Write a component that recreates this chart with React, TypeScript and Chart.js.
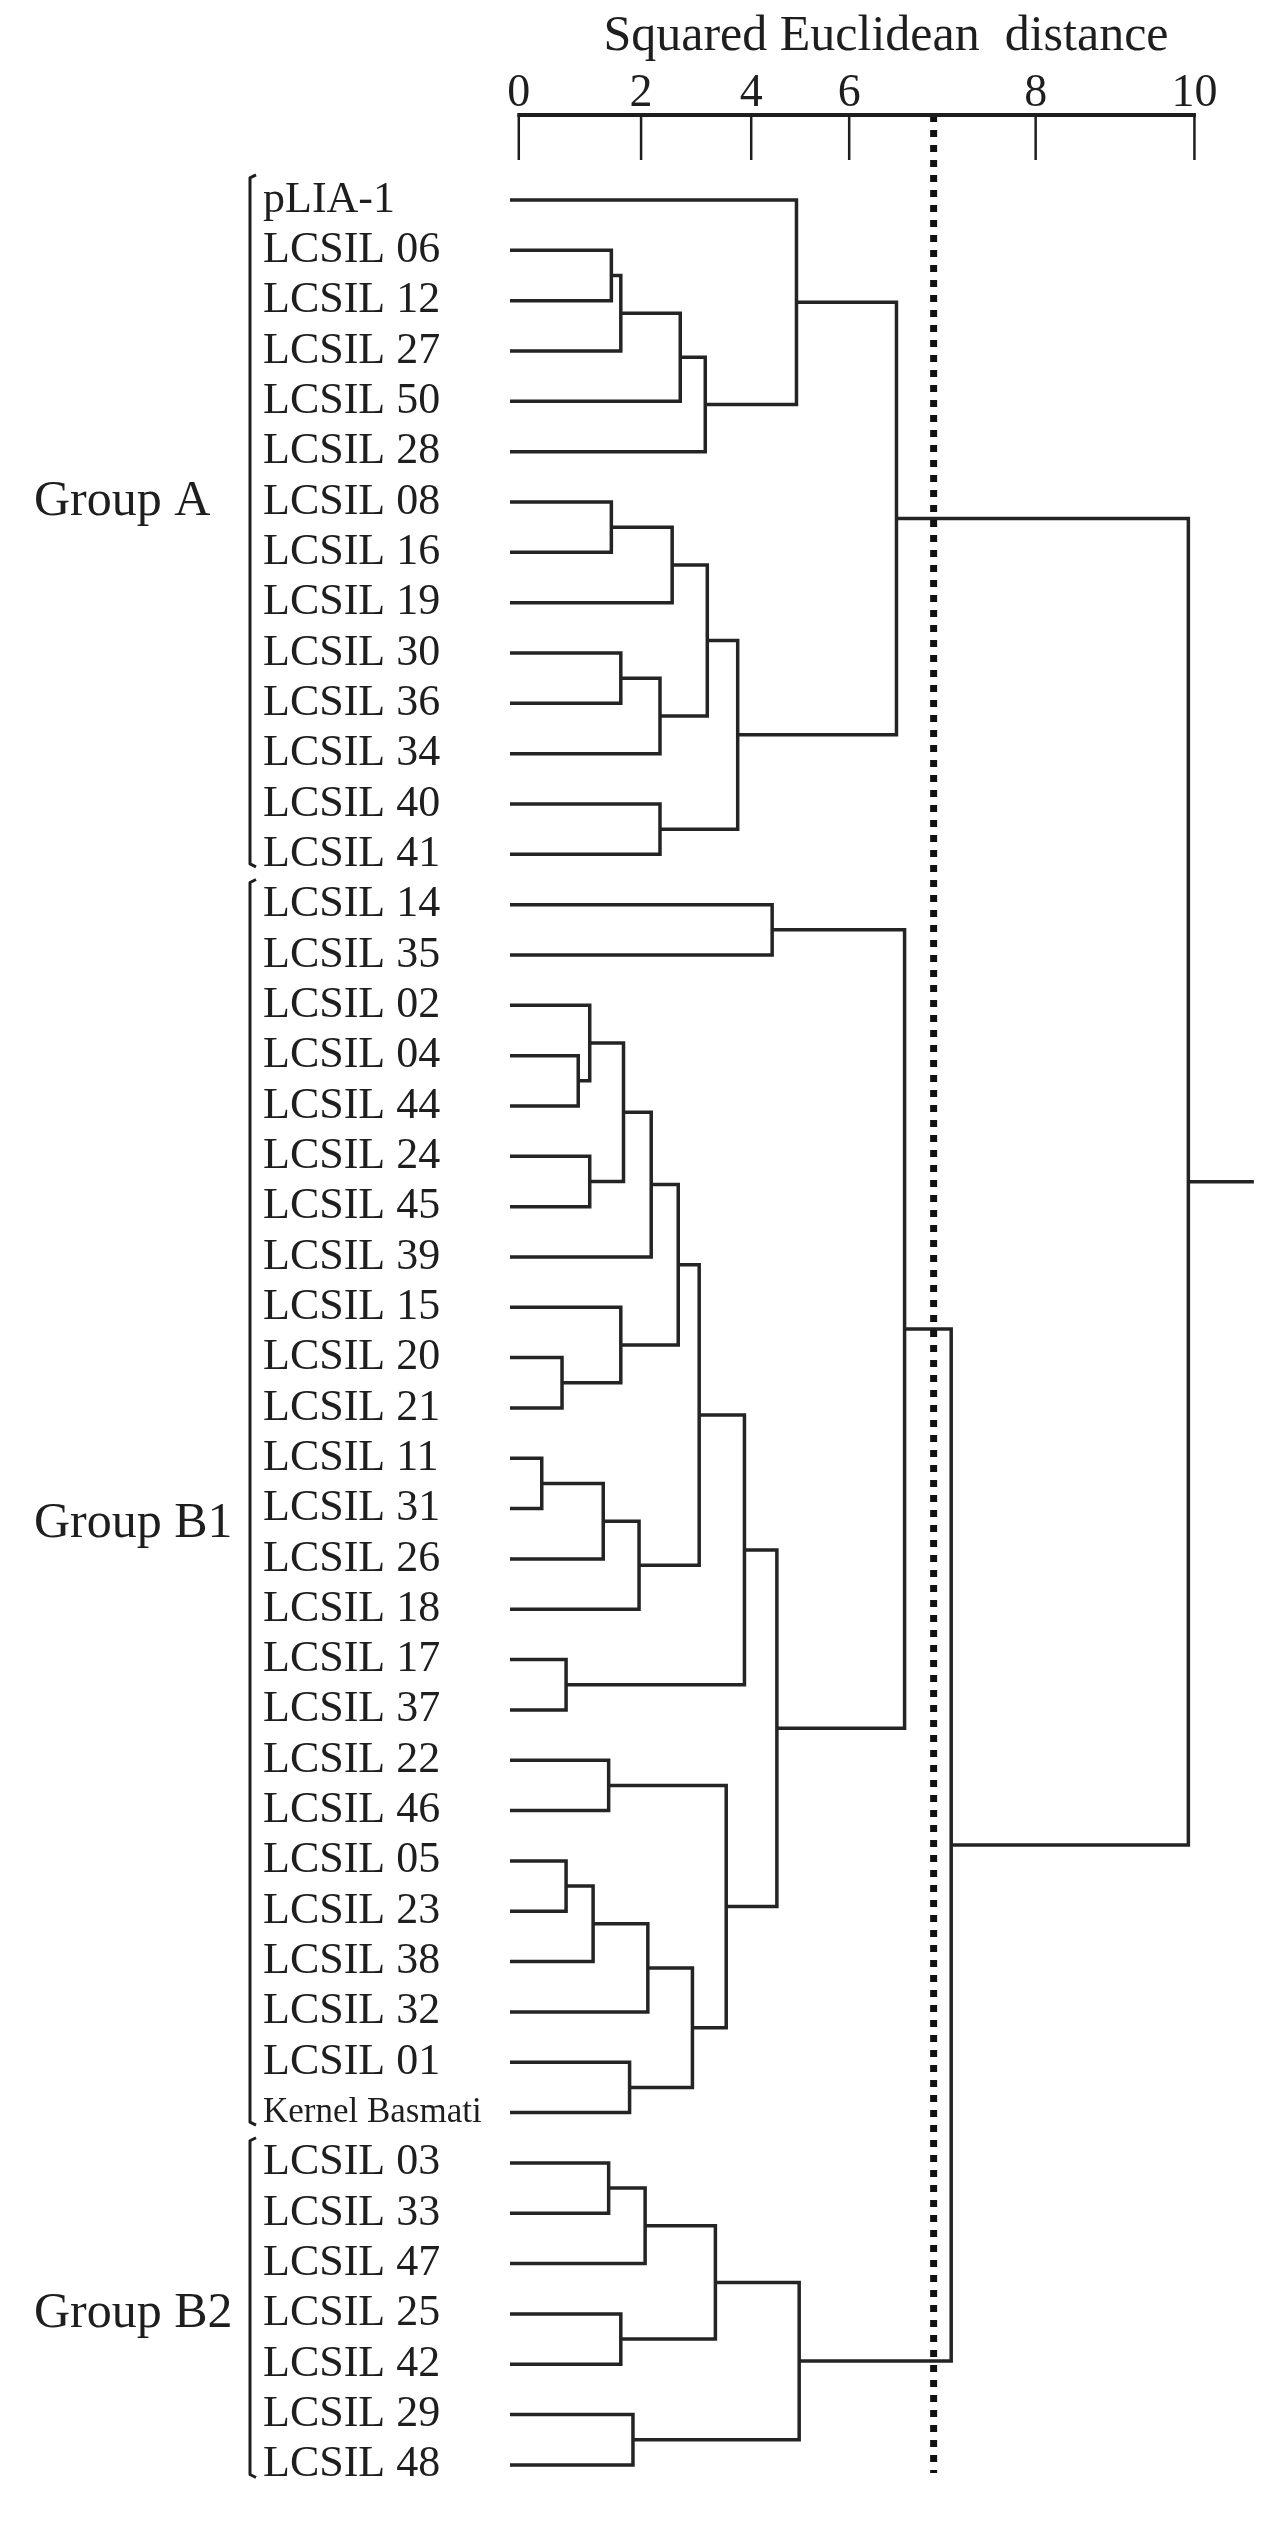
import React, { useEffect, useRef } from 'react';
import { Chart, registerables } from 'chart.js';

Chart.register(...registerables);

// ---------- data ----------
const leafLabels = [
  'pLIA-1', 'LCSIL 06', 'LCSIL 12', 'LCSIL 27', 'LCSIL 50', 'LCSIL 28', 'LCSIL 08',
  'LCSIL 16', 'LCSIL 19', 'LCSIL 30', 'LCSIL 36', 'LCSIL 34', 'LCSIL 40', 'LCSIL 41',
  'LCSIL 14', 'LCSIL 35', 'LCSIL 02', 'LCSIL 04', 'LCSIL 44', 'LCSIL 24', 'LCSIL 45',
  'LCSIL 39', 'LCSIL 15', 'LCSIL 20', 'LCSIL 21', 'LCSIL 11', 'LCSIL 31', 'LCSIL 26',
  'LCSIL 18', 'LCSIL 17', 'LCSIL 37', 'LCSIL 22', 'LCSIL 46', 'LCSIL 05', 'LCSIL 23',
  'LCSIL 38', 'LCSIL 32', 'LCSIL 01', 'Kernel Basmati',
  'LCSIL 03', 'LCSIL 33', 'LCSIL 47', 'LCSIL 25', 'LCSIL 42', 'LCSIL 29', 'LCSIL 48',
];

const groupNames = ['Group A', 'Group B1', 'Group B2'];
const groupFirstLeaf = [0, 14, 39];
const groupLastLeaf = [13, 38, 45];

// Linkage: merge k joins cluster mergeLeft[k] and mergeRight[k]
// (ids < 46 are leaves, id 46 + k is the cluster built by merge k) at mergeHeight[k].
const mergeLeft = [
  1, 46, 47, 48, 0, 6, 51, 9, 53, 52, 12, 55, 50,
  14, 17, 16, 19, 61, 63, 23, 22, 64, 25, 68, 69, 67, 29, 71, 31, 33, 75, 76, 37, 77, 74, 73, 59,
  39, 83, 42, 84, 44, 86,
  82, 58,
];
const mergeRight = [
  2, 3, 4, 5, 49, 7, 8, 10, 11, 54, 13, 56, 57,
  15, 18, 60, 20, 62, 21, 24, 65, 66, 26, 27, 28, 70, 30, 72, 32, 34, 35, 36, 38, 78, 79, 80, 81,
  40, 41, 43, 85, 45, 87,
  88, 89,
];
const mergeHeight = [
  1.37, 1.51, 2.39, 2.76, 4.11, 1.37, 2.27, 1.51, 2.09, 2.79, 2.09, 3.24, 5.59,
  3.75, 0.88, 1.05, 1.05, 1.55, 1.96, 0.64, 1.51, 2.36, 0.34, 1.25, 1.78, 2.67, 0.7, 3.34,
  1.33, 0.7, 1.1, 1.91, 1.64, 2.57, 3.07, 3.82, 5.71,
  1.33, 1.87, 1.51, 2.91, 1.69, 4.15,
  6.4, 9.91,
];

const leafStart = -0.13;
const rootLinkEnd = 10.88;
const cutoffDistance = 6.14;

const xTickValues = [0, 1.81, 3.44, 4.89, 7.65, 10];
const xTickLabels = ['0', '2', '4', '6', '8', '10'];

// ---------- layout / style ----------
const FONT = '"Liberation Serif", "Times New Roman", serif';
const INK = '#1e1e1e';
const LINK = '#242424';
const Y_MIN = -1.689;
const Y_MAX = 45.3;
const GROUP_LABEL_NUDGE = [0, 0.3, 0];

type Pt = { x: number; y: number };

function buildLinks(): Pt[][] {
  const yPos: number[] = leafLabels.map((_, i) => i);
  const hPos: number[] = leafLabels.map(() => leafStart);
  const links: Pt[][] = [];
  mergeHeight.forEach((h, k) => {
    const a = mergeLeft[k];
    const b = mergeRight[k];
    const ya = yPos[a];
    const yb = yPos[b];
    links.push([
      { x: hPos[a], y: ya },
      { x: h, y: ya },
      { x: h, y: yb },
      { x: hPos[b], y: yb },
    ]);
    yPos.push((ya + yb) / 2);
    hPos.push(h);
  });
  const root = yPos.length - 1;
  links.push([
    { x: hPos[root], y: yPos[root] },
    { x: rootLinkEnd, y: yPos[root] },
  ]);
  return links;
}

const decorPlugin = {
  id: 'dendroDecor',
  afterDraw(chart: any) {
    const { ctx, chartArea } = chart;
    const x = chart.scales.x;
    const y = chart.scales.y;
    const top = chartArea.top;
    ctx.save();
    ctx.strokeStyle = INK;
    ctx.lineCap = 'butt';
    // top axis line
    ctx.lineWidth = 4;
    ctx.beginPath();
    ctx.moveTo(x.getPixelForValue(xTickValues[0]) - 1.5, top);
    ctx.lineTo(x.getPixelForValue(xTickValues[xTickValues.length - 1]) + 1.5, top);
    ctx.stroke();
    // tick marks hanging below the axis line
    ctx.lineWidth = 2.5;
    xTickValues.forEach((v) => {
      const px = x.getPixelForValue(v);
      ctx.beginPath();
      ctx.moveTo(px, top);
      ctx.lineTo(px, top + 45);
      ctx.stroke();
    });
    // group brackets and names
    ctx.lineWidth = 3;
    ctx.lineJoin = 'round';
    ctx.fillStyle = INK;
    ctx.font = `50px ${FONT}`;
    ctx.textAlign = 'left';
    ctx.textBaseline = 'middle';
    groupNames.forEach((name, g) => {
      const y0 = y.getPixelForValue(groupFirstLeaf[g] - 0.5);
      const y1 = y.getPixelForValue(groupLastLeaf[g] + 0.25);
      const bx = 250;
      ctx.beginPath();
      ctx.moveTo(bx + 6, y0);
      ctx.lineTo(bx, y0 + 3);
      ctx.lineTo(bx, y1 - 3);
      ctx.lineTo(bx + 6, y1);
      ctx.stroke();
      const row = Math.floor((groupFirstLeaf[g] + groupLastLeaf[g]) / 2) + GROUP_LABEL_NUDGE[g];
      ctx.fillText(name, 34, y.getPixelForValue(row));
    });
    ctx.restore();
  },
};

export default function App() {
  const ref = useRef<HTMLCanvasElement | null>(null);

  useEffect(() => {
    if (!ref.current) return;
    const links = buildLinks();
    const datasets: any[] = [
      {
        label: 'cut-off',
        data: [
          { x: cutoffDistance, y: Y_MIN },
          { x: cutoffDistance, y: leafLabels.length - 1 + 0.16 },
        ],
        showLine: true,
        borderColor: '#111',
        borderWidth: 7,
        borderDash: [7, 8],
        pointRadius: 0,
        order: -1,
      },
      ...links.map((pts, i) => ({
        label: `link ${i}`,
        data: pts,
        showLine: true,
        borderColor: LINK,
        borderWidth: 3.5,
        pointRadius: 0,
        fill: false,
        tension: 0,
      })),
    ];

    const chart = new Chart(ref.current, {
      type: 'scatter',
      data: { datasets },
      options: {
        animation: false,
        responsive: true,
        maintainAspectRatio: false,
        events: [],
        layout: { padding: { left: 263, right: 18, top: 0, bottom: 42 } },
        plugins: {
          legend: { display: false },
          tooltip: { enabled: false },
        },
        scales: {
          x: {
            type: 'linear',
            position: 'top',
            min: leafStart,
            max: 11,
            grid: { display: false, drawTicks: false, tickLength: 0 },
            border: { display: false },
            afterBuildTicks: (s: any) => {
              s.ticks = xTickValues.map((v) => ({ value: v }));
            },
            ticks: {
              autoSkip: false,
              maxRotation: 0,
              padding: 0,
              color: INK,
              font: { family: FONT, size: 46, lineHeight: 0.9 },
              callback: (_v: any, i: number) => xTickLabels[i],
            },
            title: {
              display: true,
              text: 'Squared Euclidean  distance',
              color: INK,
              font: { family: FONT, size: 50, lineHeight: 1 },
              padding: { top: 12, bottom: 11.6 },
            },
          },
          y: {
            type: 'linear',
            min: Y_MIN,
            max: Y_MAX,
            reverse: true,
            grid: { display: false, drawTicks: false, tickLength: 0 },
            border: { display: false },
            afterBuildTicks: (s: any) => {
              s.ticks = leafLabels.map((_, i) => ({ value: i }));
            },
            afterFit: (s: any) => {
              s.width = 247;
            },
            ticks: {
              autoSkip: false,
              crossAlign: 'far',
              padding: 0,
              color: INK,
              font: (c: any) => ({
                family: FONT,
                size: (leafLabels[c.index] || '').length > 10 ? 35 : 44,
                lineHeight: 1,
              }),
              callback: (_v: any, i: number) => leafLabels[i],
            },
          },
        },
      } as any,
      plugins: [decorPlugin],
    });
    return () => chart.destroy();
  }, []);

  return (
    <div style={{ position: 'absolute', left: 0, top: 0, width: 1280, height: 2522, background: '#fff' }}>
      <canvas ref={ref} />
    </div>
  );
}
